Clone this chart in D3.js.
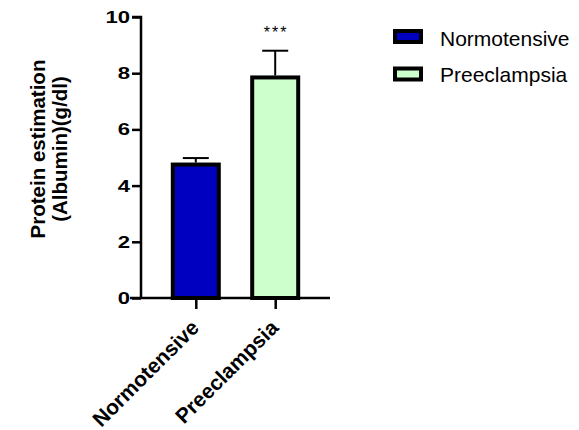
<!DOCTYPE html>
<html><head><meta charset="utf-8">
<script src="https://cdn.jsdelivr.net/npm/d3@7"></script>
<style>body{margin:0;background:#fff;} svg{display:block;} text{font-family:Arial,"Liberation Sans",sans-serif;}</style>
</head><body>
<svg id="chart" width="579" height="430"></svg>
<script>
const categories = ["Normotensive", "Preeclampsia"];
const means = [4.82, 7.92];
const errors = [0.16, 0.88];
const colors = ["#0000C0", "#CCFFCC"];
const yTicks = [0, 2, 4, 6, 8, 10];
const significance = ["", "***"];
const yLabelLines = ["Protein estimation", "(Albumin)(g/dl)"];

const svg = d3.select("#chart");
const x = d3.scalePoint().domain(categories).range([141, 330]).padding(0.69);
const y = d3.scaleLinear().domain([0, 10]).range([298, 17]);
const barW = 50;

// bars
svg.selectAll("rect.bar").data(categories).enter().append("rect")
  .attr("class", "bar")
  .attr("x", d => x(d) - barW/2 + 2)
  .attr("width", barW - 4)
  .attr("y", (d,i) => y(means[i]) + 2)
  .attr("height", (d,i) => y(0) - y(means[i]) - 2)
  .attr("fill", (d,i) => colors[i])
  .attr("stroke", "#000").attr("stroke-width", 4);

// error bars
categories.forEach((c,i) => {
  const g = svg.append("g");
  g.append("line").attr("x1", x(c)).attr("x2", x(c))
    .attr("y1", y(means[i])).attr("y2", y(means[i] + errors[i]))
    .attr("stroke", "#000").attr("stroke-width", 2);
  g.append("line").attr("x1", x(c) - 13).attr("x2", x(c) + 13)
    .attr("y1", y(means[i] + errors[i])).attr("y2", y(means[i] + errors[i]))
    .attr("stroke", "#000").attr("stroke-width", 2);
  if (significance[i]) {
    svg.append("text").attr("x", x(c) + 1).attr("y", y(means[i] + errors[i]) - 13)
      .attr("text-anchor", "middle").attr("font-size", 16).attr("letter-spacing", 2)
      .text(significance[i]);
  }
});

// y axis
const yAxis = d3.axisLeft(y).tickValues(yTicks).tickSize(9).tickPadding(3).tickFormat(d3.format("d"));
const ya = svg.append("g").attr("transform", "translate(141,0)").call(yAxis);
ya.select(".domain").attr("stroke-width", 2.5).attr("d", `M-9,${y(10)}H0V${y(0)}`);
ya.selectAll(".tick line").attr("stroke-width", 2.5);
ya.selectAll(".tick text").attr("font-size", 17).attr("font-weight", "bold").attr("fill", "#000")
  .attr("font-family", "Arial, 'Liberation Sans', sans-serif")
  .attr("x", -11)
  .attr("textLength", d => String(d).length * 12.3).attr("lengthAdjust", "spacingAndGlyphs");

// x axis
const xAxis = d3.axisBottom(x).tickSize(11).tickPadding(4);
const xa = svg.append("g").attr("transform", "translate(0,298)").call(xAxis);
xa.select(".domain").attr("stroke-width", 2.5).attr("d", "M130,0H330");
xa.selectAll(".tick line").attr("stroke-width", 2.5);
xa.selectAll(".tick text").attr("font-size", 21).attr("font-weight", "bold").attr("fill", "#000")
  .attr("font-family", "Arial, 'Liberation Sans', sans-serif")
  .attr("text-anchor", "end").attr("x", 0).attr("y", 0).attr("dy", 0)
  .attr("transform", "translate(4,31) rotate(-45)");

// y label
const yl = svg.append("text").attr("transform", "translate(0,149) rotate(-90)")
  .attr("text-anchor", "middle").attr("font-size", 20.5).attr("font-weight", "bold");
yLabelLines.forEach((t,i) => yl.append("tspan").attr("x", 0).attr("y", 45 + i*22).text(t));

// legend
const leg = svg.append("g");
categories.forEach((c,i) => {
  const cy = 36.5 + i*37.5;
  leg.append("rect").attr("x", 395).attr("y", cy - 5.5).attr("width", 26).attr("height", 11)
    .attr("fill", colors[i]).attr("stroke", "#000").attr("stroke-width", 4);
  leg.append("text").attr("x", 440).attr("y", 46 + i*36).attr("font-size", 21).text(c);
});
</script>
</body></html>
